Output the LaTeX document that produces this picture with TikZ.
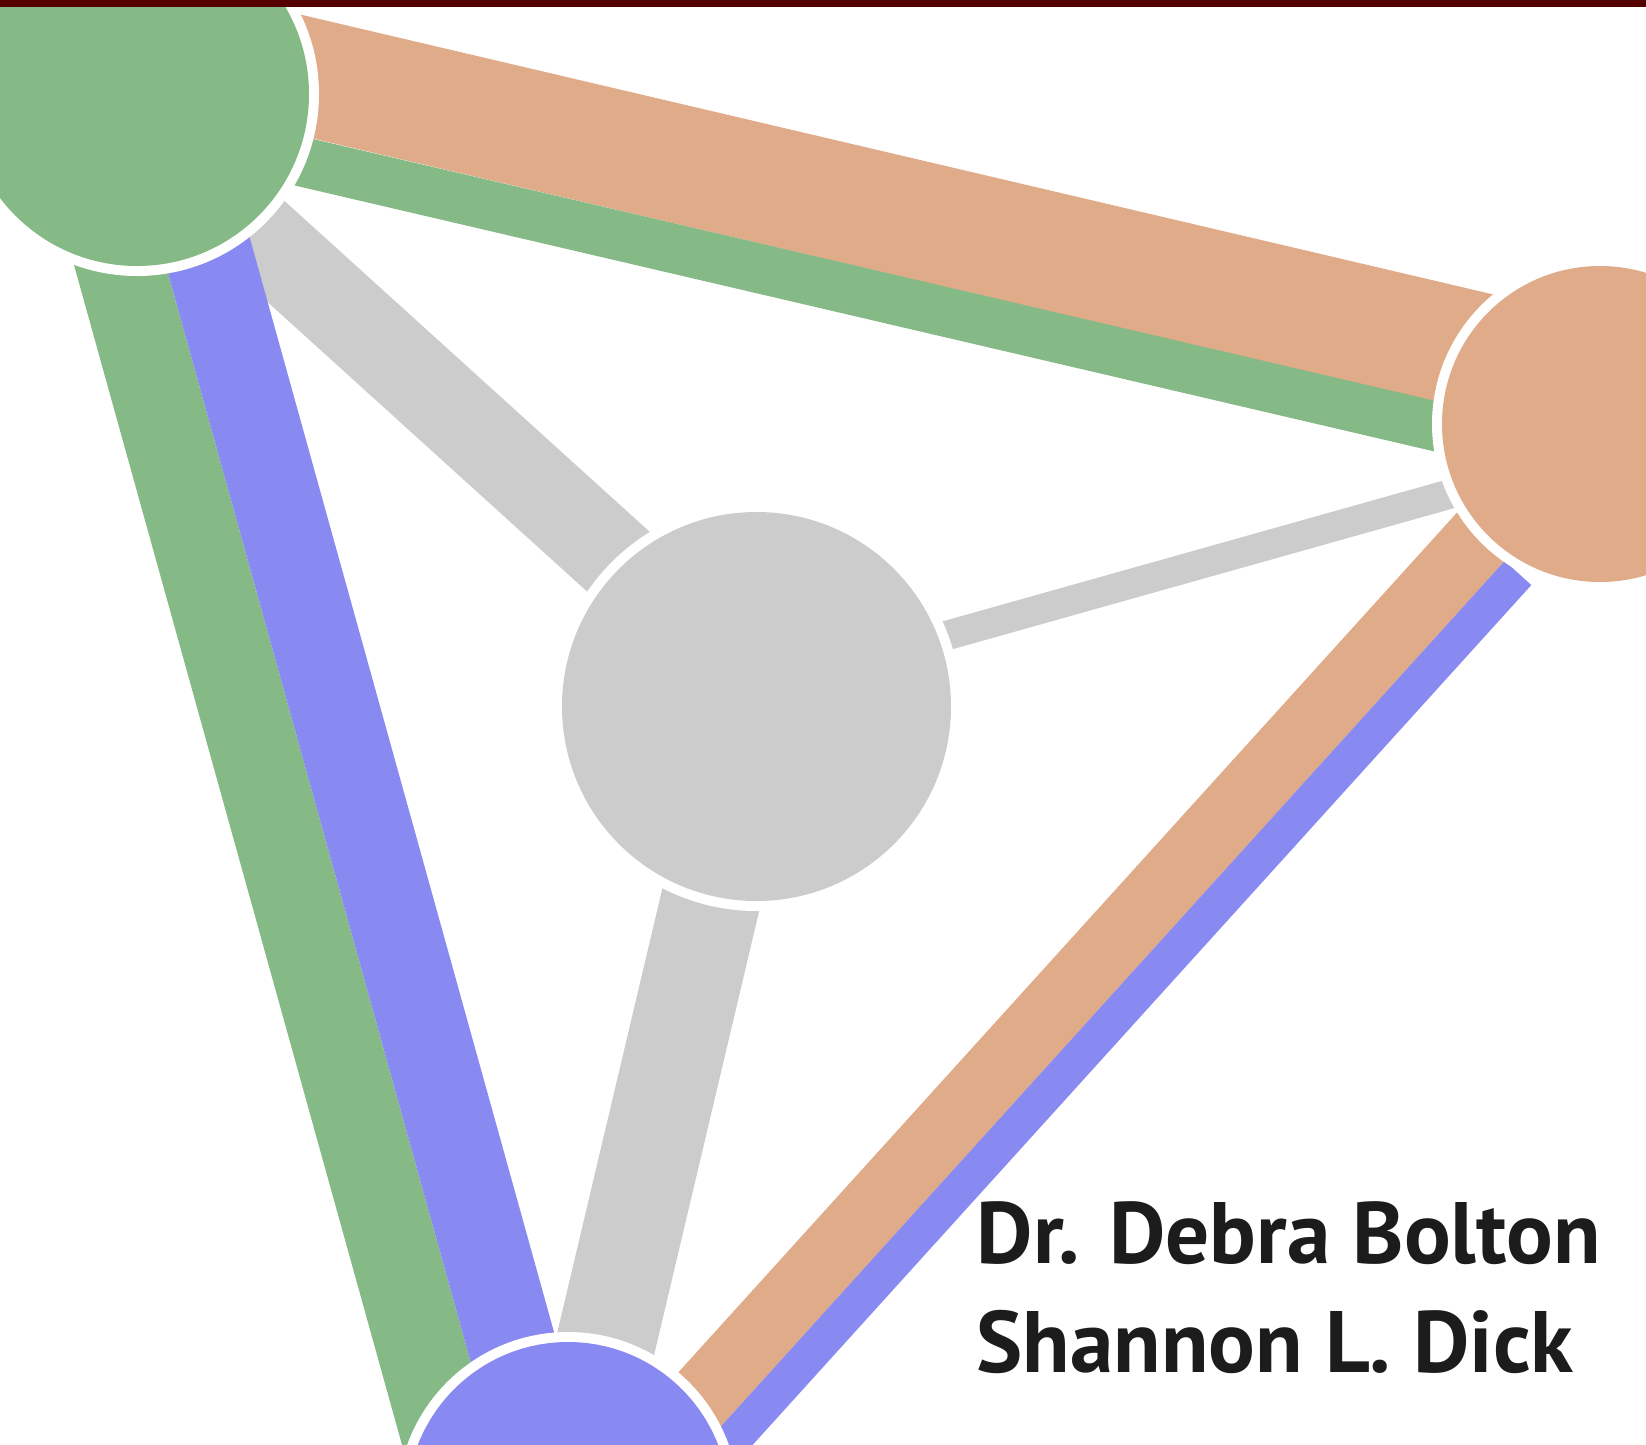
\documentclass[tikz,border=0pt]{standalone}
\usepackage{fontspec}
\usepackage[usenames,dvipsnames]{xcolor}
\usepackage{tkz-euclide}
\usetikzlibrary{calc}
\setmainfont{PT Sans}

\definecolor{nodegreen}{HTML}{85B985}
\definecolor{nodeorange}{HTML}{E0AB89}
\definecolor{nodegray}{HTML}{CCCCCC}
\definecolor{nodeblue}{HTML}{8989F2}
\definecolor{barred}{HTML}{550000}
\definecolor{inkgray}{HTML}{1C1C1C}

\begin{document}
\begin{tikzpicture}[x=0.1mm, y=-0.1mm,
  band/.style={line width=#1*0.1mm},
  ring/.style={fill=white},
  authortext/.style={inner sep=0pt, text=inkgray, font=\fontsize{24.8pt}{31pt}\selectfont\bfseries}]

\useasboundingbox (0,0) rectangle (1646,1444);
\clip (0,0) rectangle (1646,1444);

\tkzDefPoint(137,94){G}
\tkzDefPoint(1600,424){O}
\tkzDefPoint(756.5,706.5){C}
\tkzDefPoint(568,1503){B}
\tkzDefPoint(1518,573){E}

% gray bands
\draw [nodegray] ($(G)+(0,31.5)$) edge[band=86.3] ($(C)+(0,-19.7)$) ($(C)+(0,-17.5)$) edge[band=29.5] ($(O)+(0,27.8)$) (C) edge[band=99.4] (B);

% coloured bands
\draw [nodeorange] ($(G)+(0,-57.3)$) edge[band=117.8] ($(O)+(0,-44)$) ($(O)+(-17,0)$) edge[band=67.9] ($(B)+(37.8,0)$);
\draw [nodegreen] ($(G)+(0,29.3)$) edge[band=49.4] ($(O)+(0,40.7)$) ($(G)+(-64.7,0)$) edge[band=88.3] ($(B)+(-104,0)$);
\draw [nodeblue] ($(G)+(27,0)$) edge[band=88.3] ($(B)+(-12.3,0)$) (E) edge[band=35.9] ($(B)+(107.8,0)$);

% nodes
\fill [ring] (G) circle (182);
\fill [nodegreen] (G) circle (172);
\fill [ring] (O) circle (168);
\fill [nodeorange] (O) circle (158);
\fill [ring] (C) circle (204.5);
\fill [nodegray] (C) circle (194.5);
\fill [ring] (B) circle (171);
\fill [nodeblue] (B) circle (161);

\node [authortext, anchor=base west] (nameA) at (976,1263) {Dr. Debra Bolton};
\node [authortext, anchor=base west] (nameB) at ($(nameA.base west)+(0,109)$) {Shannon L. Dick};

\fill [barred] (0,0) rectangle (1646,7);

\end{tikzpicture}
\end{document}
